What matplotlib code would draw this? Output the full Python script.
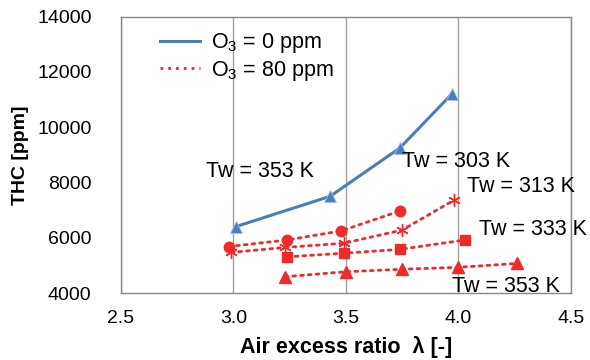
import matplotlib
matplotlib.use('Agg')
import matplotlib.pyplot as plt
from matplotlib.lines import Line2D

plt.rcParams['font.family'] = ['Liberation Sans', 'DejaVu Sans']
plt.rcParams['mathtext.fontset'] = 'custom'
plt.rcParams['mathtext.rm'] = 'Liberation Sans'
plt.rcParams['mathtext.default'] = 'regular'

BLUE = '#4a7ebb'
RED = '#ee2a2a'

# O3 = 0 ppm
lam_0ppm = [3.01, 3.43, 3.74, 3.97]
thc_0ppm = [6400, 7500, 9250, 11200]

# O3 = 80 ppm, one series per wall temperature
lam_303 = [2.98, 3.24, 3.48, 3.74]
thc_303 = [5680, 5920, 6250, 6970]
lam_313 = [2.99, 3.23, 3.49, 3.75, 3.98]
thc_313 = [5470, 5650, 5800, 6280, 7360]
lam_333 = [3.24, 3.49, 3.74, 4.03]
thc_333 = [5310, 5440, 5580, 5920]
lam_353 = [3.23, 3.50, 3.75, 4.00, 4.26]
thc_353 = [4590, 4770, 4860, 4930, 5070]

labels = ['Tw = 353 K', 'Tw = 303 K', 'Tw = 313 K', 'Tw = 333 K', 'Tw = 353 K']
label_x = [2.88, 3.75, 4.04, 4.09, 3.97]
label_y = [8380, 8750, 7840, 6300, 4230]

xticks = [2.5, 3.0, 3.5, 4.0, 4.5]
yticks = [4000, 6000, 8000, 10000, 12000, 14000]

fig = plt.figure(figsize=(5.9, 3.6), dpi=100)
ax = fig.add_axes([0.2047, 0.1861, 0.7631, 0.7675])

ax.plot(lam_0ppm, thc_0ppm, color=BLUE, lw=2.2, marker='^', ms=8,
        mfc=BLUE, mec='#9fc0e8', mew=0.6, zorder=4)

dot = dict(color=RED, lw=2, linestyle=(0, (1, 1.8)), dash_capstyle='round',
           mfc=RED, mec=RED, zorder=3)
ax.plot(lam_303, thc_303, marker='o', ms=7.5, **dot)
ax.plot(lam_313, thc_313, marker=(6, 2, 0), ms=9, mew=1, **dot)
ax.plot(lam_333, thc_333, marker='s', ms=7.5, **dot)
ax.plot(lam_353, thc_353, marker='^', ms=8.5, **dot)

for t, x, y in zip(labels, label_x, label_y):
    ax.text(x, y, t, fontsize=15.5, va='center', ha='left', clip_on=False, zorder=5)

ax.set_xlim(2.5, 4.5)
ax.set_ylim(4000, 14000)
ax.set_xticks(xticks)
ax.set_xticklabels([f'{v:.1f}' for v in xticks])
ax.set_yticks(yticks)
ax.tick_params(axis='both', length=0, labelsize=14)
ax.tick_params(axis='y', pad=21)
ax.tick_params(axis='x', pad=12)
ax.grid(axis='x', color='#a0a0a0', lw=1)
ax.set_axisbelow(True)
for s in ax.spines.values():
    s.set_color('#888888')
    s.set_linewidth(1)

ax.set_xlabel('Air excess ratio  λ [-]', fontsize=15.5, fontweight='bold', labelpad=7)
ax.set_ylabel('THC [ppm]', fontsize=14, fontweight='bold', labelpad=6)

handles = [Line2D([], [], color=BLUE, lw=2.2),
           Line2D([], [], color=RED, lw=2, linestyle=(0, (1, 1.8)))]
ax.legend(handles, ['O$_3$ = 0 ppm', 'O$_3$ = 80 ppm'], loc='upper left',
          bbox_to_anchor=(0.087, 0.947), frameon=False, fontsize=15.5,
          handlelength=1.85, handletextpad=0.5, labelspacing=0.15,
          borderpad=0, borderaxespad=0)

fig.savefig('out.png', dpi=100)
